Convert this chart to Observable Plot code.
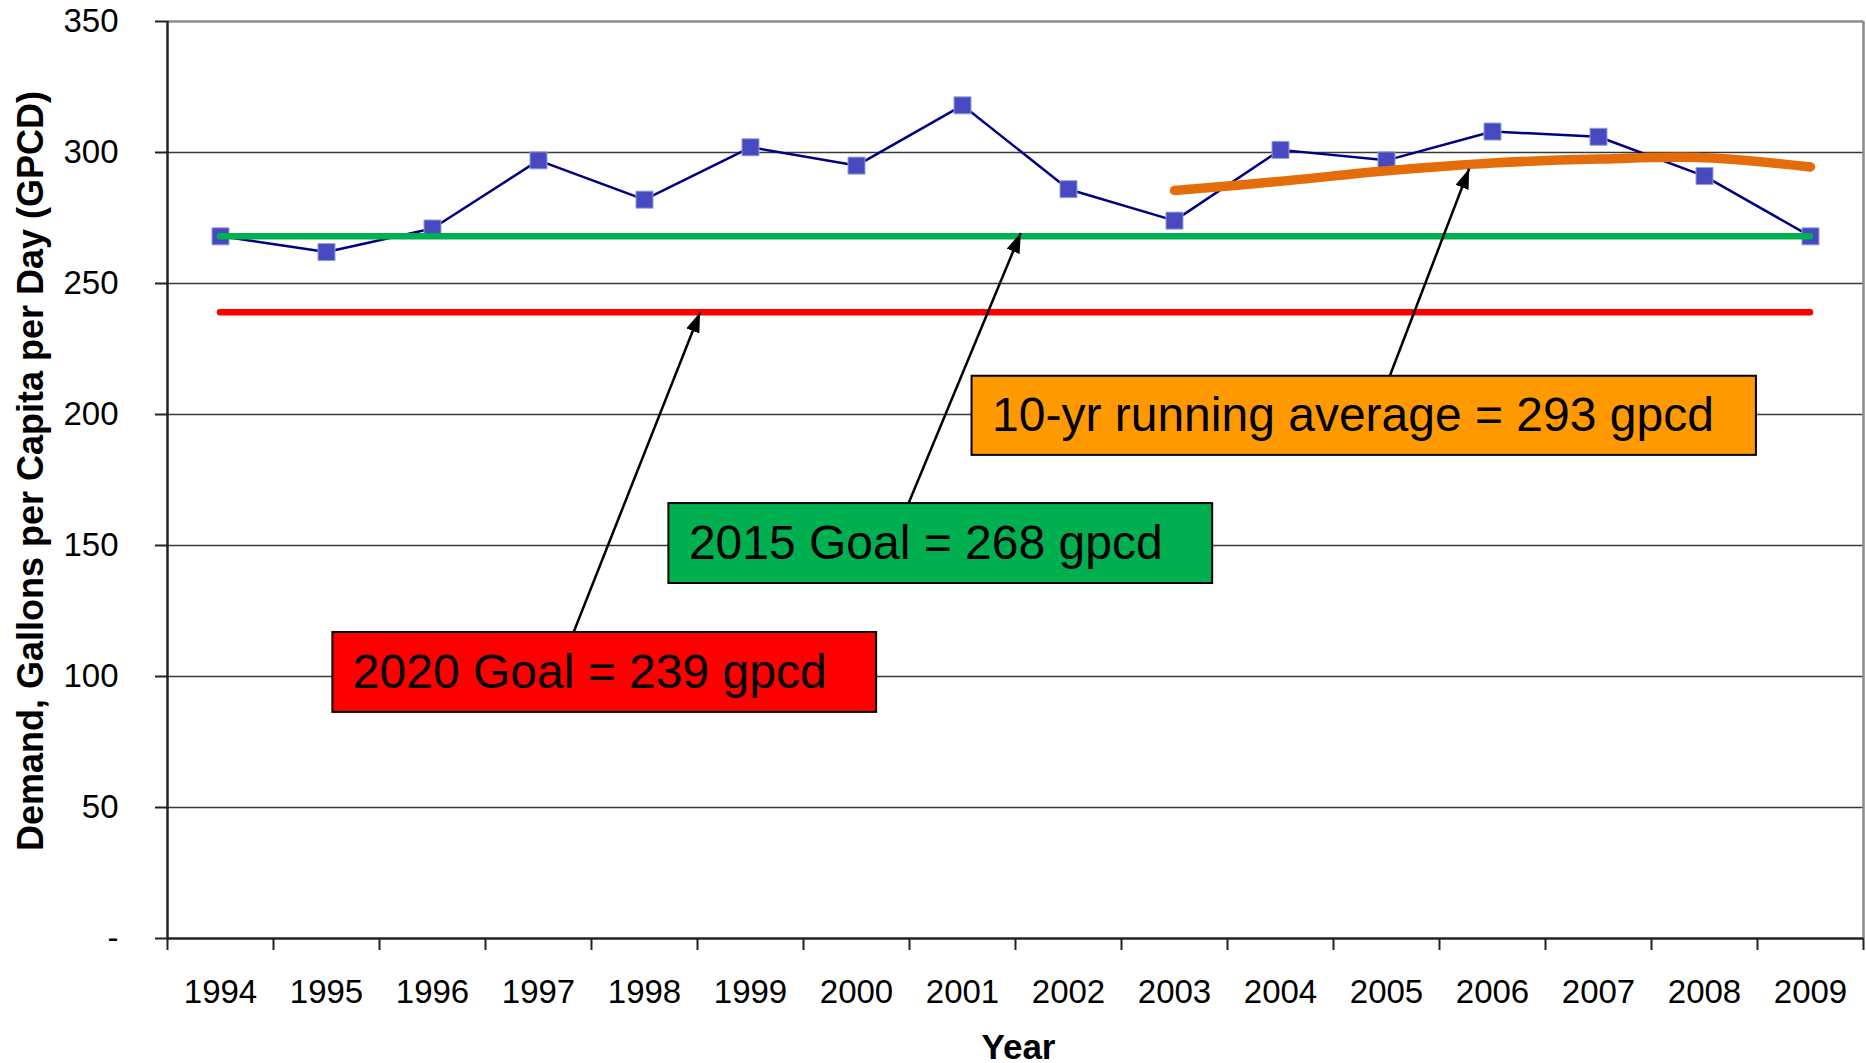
<!DOCTYPE html>
<html>
<head>
<meta charset="utf-8">
<script src="https://cdn.jsdelivr.net/npm/d3@7"></script>
<script src="https://cdn.jsdelivr.net/npm/@observablehq/plot@0.6"></script>
<style>
  html, body { margin: 0; padding: 0; background: white; }
  svg { display: block; }
</style>
</head>
<body>
<div id="chart"></div>
<script>
// ---- data ----
const years = [1994, 1995, 1996, 1997, 1998, 1999, 2000, 2001, 2002, 2003, 2004, 2005, 2006, 2007, 2008, 2009];
const demand = [268, 262, 271, 297, 282, 302, 295, 318, 286, 274, 301, 297, 308, 306, 291, 268];
const avgYears = [2003, 2004, 2005, 2006, 2007, 2008, 2009];
const runningAvg = [285.5, 289, 293, 296, 297.5, 298, 294.5];
const goalNames = ["2015 Goal", "2020 Goal"];
const goalValues = [268, 239];
const yTicks = [0, 50, 100, 150, 200, 250, 300, 350];
const boxLabels = ["2020 Goal = 239 gpcd", "2015 Goal = 268 gpcd", "10-yr running average = 293 gpcd"];
const yTitle = "Demand, Gallons per Capita per Day (GPCD)";
const xTitle = "Year";

// ---- annotation layout (data-space anchors) ----
const boxLayout = [
  {x1: 1995.06, x2: 2000.19, y1: 86.3, y2: 116.8, fill: "#FF0000"},
  {x1: 1998.23, x2: 2003.36, y1: 135.5, y2: 166.0, fill: "#00B050"},
  {x1: 2001.09, x2: 2008.49, y1: 184.4, y2: 214.6, fill: "#FF9900"}
];
const arrowLayout = [
  {x1: 1997.33, y1: 116.8, x2: 1998.525, y2: 239},
  {x1: 2000.49, y1: 166.0, x2: 2001.55, y2: 269.3},
  {x1: 2005.03, y1: 214.6, x2: 2005.78, y2: 293.8}
];
const goalColors = ["#00B050", "#FF0000"];

// ---- derived tables ----
const demandData = years.map((y, i) => ({year: y, value: demand[i]}));
const avgData = avgYears.map((y, i) => ({year: y, value: runningAvg[i]}));
const goals = goalNames.map((n, i) => ({name: n, value: goalValues[i], color: goalColors[i]}));
const boxes = boxLabels.map((t, i) => ({label: t, ...boxLayout[i]}));
const bandEdges = years.map(y => y - 0.5).concat([years[years.length - 1] + 0.5]);
const gridTicks = yTicks.filter(t => t > 0 && t < yTicks[yTicks.length - 1]);

function arrowHead(color, context) {
  const doc = (context && context.document) || document;
  const ns = "http://www.w3.org/2000/svg";
  const m = doc.createElementNS(ns, "marker");
  m.setAttribute("viewBox", "-20 -7 20 14");
  m.setAttribute("markerWidth", "20");
  m.setAttribute("markerHeight", "14");
  m.setAttribute("markerUnits", "userSpaceOnUse");
  m.setAttribute("refX", "0");
  m.setAttribute("refY", "0");
  m.setAttribute("orient", "auto");
  const p = doc.createElementNS(ns, "path");
  p.setAttribute("d", "M-20,-7L0,0L-20,7Z");
  p.setAttribute("fill", color);
  p.setAttribute("stroke", "none");
  m.appendChild(p);
  return m;
}

const font = "'Liberation Sans', Arial, Helvetica, sans-serif";

const chart = Plot.plot({
  width: 1866,
  height: 1063,
  marginLeft: 167,
  marginRight: 3,
  marginTop: 21,
  marginBottom: 125,
  x: {domain: [bandEdges[0], bandEdges[bandEdges.length - 1]]},
  y: {domain: [0, yTicks[yTicks.length - 1]]},
  color: {type: "identity"},
  style: {fontFamily: font, background: "white", color: "black", overflow: "visible"},
  marks: [
    Plot.ruleY(gridTicks, {stroke: "#3a3a3a", strokeWidth: 1.5}),
    Plot.ruleY([yTicks[yTicks.length - 1]], {stroke: "#8c8c8c", strokeWidth: 2.5}),
    Plot.ruleX([bandEdges[bandEdges.length - 1]], {stroke: "#8c8c8c", strokeWidth: 2.5}),
    Plot.axisY({ticks: yTicks, tickSize: 12, tickPadding: 37, fontSize: 33, strokeWidth: 2, stroke: "#222",
      tickFormat: d => d === 0 ? "-" : String(d), label: null}),
    Plot.axisX({ticks: bandEdges, tickSize: 12, tickFormat: () => "", strokeWidth: 2, stroke: "#222", label: null}),
    Plot.axisX({ticks: years, tickSize: 0, tickPadding: 41, fontSize: 33, tickFormat: d => String(d), label: null}),
    Plot.ruleY([0], {stroke: "#222", strokeWidth: 2.5}),
    Plot.ruleX([bandEdges[0]], {stroke: "#222", strokeWidth: 2.5}),
    Plot.line(demandData, {x: "year", y: "value", stroke: "#000080", strokeWidth: 2.5}),
    Plot.dot(demandData, {x: "year", y: "value", symbol: "square", r: 9.6, fill: "#4848C0", stroke: "#8DA2DC", strokeWidth: 1}),
    Plot.ruleY(goals, {y: "value", x1: years[0], x2: years[years.length - 1], stroke: "color", strokeWidth: 6.5, strokeLinecap: "round"}),
    Plot.line(avgData, {x: "year", y: "value", stroke: "#E46C0A", strokeWidth: 9.5, curve: "catmull-rom", strokeLinecap: "round"}),
    Plot.link(arrowLayout, {x1: "x1", y1: "y1", x2: "x2", y2: "y2", stroke: "black", strokeWidth: 2.5, markerEnd: arrowHead}),
    Plot.rect(boxes, {x1: "x1", x2: "x2", y1: "y1", y2: "y2", fill: "fill", stroke: "black", strokeWidth: 2}),
    Plot.text(boxes, {x: "x1", y: d => (d.y1 + d.y2) / 2, text: "label", dx: 20, textAnchor: "start", lineAnchor: "middle", fontSize: 48, fill: "black"}),
    Plot.text([yTitle], {text: d => d, frameAnchor: "left", dx: -136, dy: -9, rotate: -90, textAnchor: "middle", fontSize: 36, fontWeight: "bold", fill: "black", lineAnchor: "middle"}),
    Plot.text([xTitle], {text: d => d, frameAnchor: "bottom", dx: 3, dy: 109, textAnchor: "middle", fontSize: 35, fontWeight: "bold", fill: "black", lineAnchor: "middle"})
  ]
});
document.getElementById("chart").appendChild(chart);
</script>
</body>
</html>
